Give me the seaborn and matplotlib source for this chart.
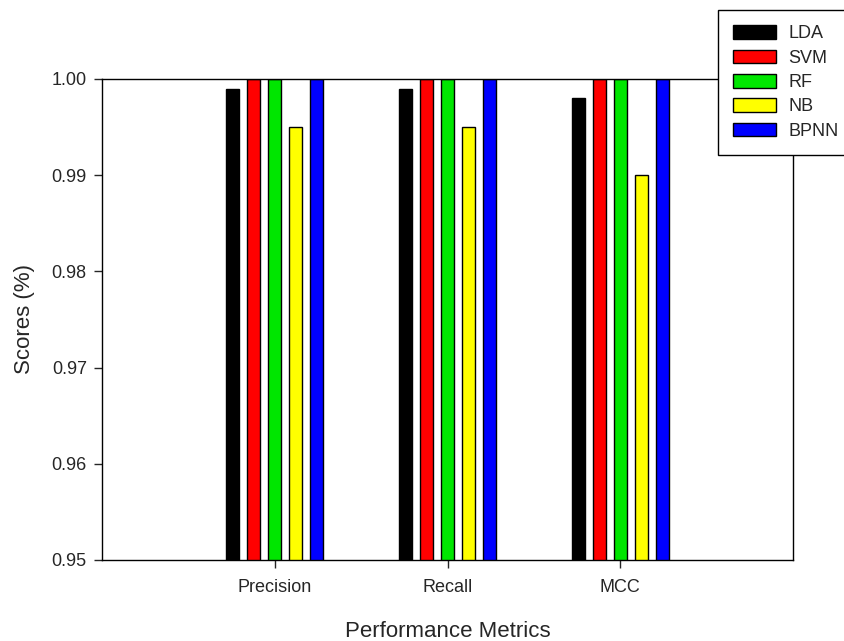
import pandas as pd
import matplotlib
matplotlib.use("Agg")
import matplotlib.pyplot as plt
import seaborn as sns

# Data
metrics = ["Precision", "Recall", "MCC"]
models = ["LDA", "SVM", "RF", "NB", "BPNN"]
lda = [0.999, 0.999, 0.998]
svm = [1.000, 1.000, 1.000]
rf = [1.000, 1.000, 1.000]
nb = [0.995, 0.995, 0.990]
bpnn = [1.000, 1.000, 1.000]
colors = ["#000000", "#ff0000", "#00e600", "#ffff00", "#0000ff"]

rows = []
for model, vals in zip(models, [lda, svm, rf, nb, bpnn]):
    for metric, v in zip(metrics, vals):
        rows.append({"Metric": metric, "Model": model, "Score": v})
df = pd.DataFrame(rows)

sns.set_style("ticks")
plt.rcParams["font.family"] = ["Liberation Sans", "DejaVu Sans"]

fig = plt.figure(figsize=(8.44, 6.41), dpi=100)
ax = fig.add_axes([0.1209, 0.1264, 0.8187, 0.7504])

sns.barplot(
    data=df, x="Metric", y="Score", hue="Model", order=metrics, hue_order=models,
    palette=colors, width=0.607, gap=0.38, edgecolor="black", linewidth=1,
    errorbar=None, ax=ax, saturation=1,
)

ax.set_xlim(-1, 3)
ax.set_ylim(0.95, 1.0)
ax.set_yticks([0.95, 0.96, 0.97, 0.98, 0.99, 1.00])
ax.set_yticklabels(["0.95", "0.96", "0.97", "0.98", "0.99", "1.00"])
ax.tick_params(axis="both", labelsize=13, length=6, width=1, direction="out")
ax.tick_params(axis="x", pad=8)
ax.tick_params(axis="y", pad=5)
ax.set_xlabel("Performance Metrics", fontsize=16, labelpad=18)
ax.set_ylabel("Scores (%)", fontsize=16, labelpad=12)
for s in ax.spines.values():
    s.set_linewidth(1)
    s.set_color("black")

handles, labels = ax.get_legend_handles_labels()
ax.legend_.remove()
leg = fig.legend(
    handles, labels, loc="upper left", bbox_to_anchor=(718 / 844, 1 - 10 / 641),
    bbox_transform=fig.transFigure, fontsize=13, frameon=True, fancybox=False,
    edgecolor="black", framealpha=1, handlelength=2.38, handleheight=0.78,
    labelspacing=0.4, borderpad=0.85, handletextpad=0.66, borderaxespad=0,
)
leg.get_frame().set_linewidth(1)

fig.savefig("out.png", dpi=100)
